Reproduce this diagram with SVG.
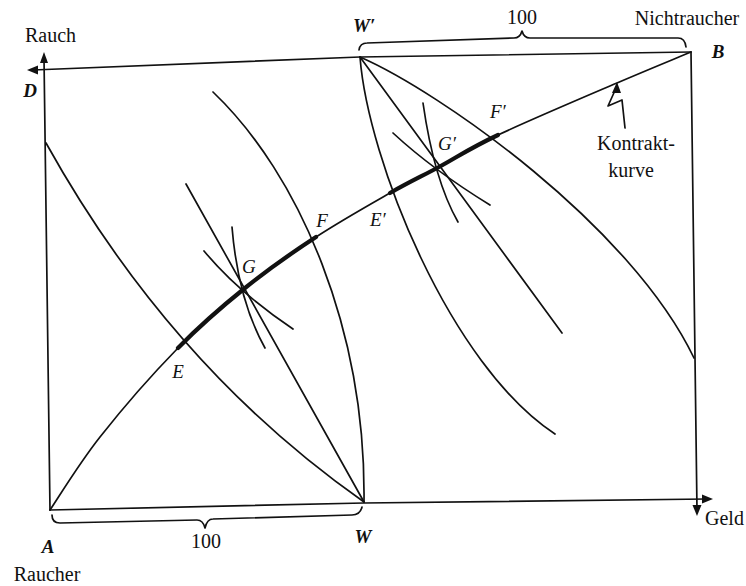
<svg xmlns="http://www.w3.org/2000/svg" width="746" height="586" viewBox="0 0 746 586">
<defs>
<style>
.ln{fill:none;stroke:#111;stroke-width:1.7;stroke-linecap:round;stroke-linejoin:round}
.thick{fill:none;stroke:#111;stroke-width:4.2;stroke-linecap:round}
.ah{fill:#111;stroke:none}
.t{font-family:"Liberation Serif","Times New Roman",serif;font-size:20px;fill:#111}
.lab{font-family:"Liberation Serif","Times New Roman",serif;font-size:19px;font-style:italic;fill:#111}
.b{font-weight:bold}
</style>
</defs>
<rect x="0" y="0" width="746" height="586" fill="#fff"/>

<g id="axes">
  <polyline class="ln" points="44,58 50,510"/>
  <polyline class="ln" points="33,70 360,57 691,52"/>
  <polyline class="ln" points="50,510 364,503 707,499"/>
  <polyline class="ln" points="691,52 697,510"/>
  <polygon class="ah" points="44,52 40,63 48,63"/>
  <polygon class="ah" points="27,70 38,65.5 38,74.5"/>
  <polygon class="ah" points="713,499 702,494.5 702,503.5"/>
  <polygon class="ah" points="697,516 692.5,505 701.5,505"/>
</g>

<g id="braces">
  <path class="ln" d="M359,50 Q360,43 367,43 L514,38 Q520,38 522,31 Q524,38 530,38 L678,38 Q685,38 686,47"/>
  <path class="ln" d="M52,515 Q52,523 60,523 L197,520 Q203,520 205,528 Q207,519 213,519 L352,515 Q360,515 362,507"/>
</g>

<g id="connectors">
  <!-- smoker indifference curves -->
  <path class="ln" d="M46,143 Q170,366 364,502"/>
  <path class="ln" d="M213,92 C300,175 366,330 364,502"/>
  <line class="ln" x1="186" y1="184" x2="364" y2="502"/>
  <path class="ln" d="M232,227 Q238,300 265,348"/>
  <path class="ln" d="M204,251 Q238,292 293,329"/>
  <!-- non-smoker curves -->
  <path class="ln" d="M360,57 C368,160 450,365 555,434"/>
  <line class="ln" x1="360" y1="57" x2="562" y2="333"/>
  <path class="ln" d="M360,57 C440,92 630,225 694,358"/>
  <path class="ln" d="M423,103 Q434,180 458,222"/>
  <path class="ln" d="M393,133 Q433,170 490,205"/>
  <!-- contract curve -->
  <path class="ln" d="M50,510 C58.3,497.8 78.7,464 100,437 C121.3,410 153.8,372.8 178,348 C202.2,323.2 222,306.5 245,288 C268,269.5 291.8,252.8 316,237 C340.2,221.2 369.5,204.7 390,193 C410.5,181.3 421,176.7 439,167 C457,157.3 468.3,149 498,135 C527.7,121 584.8,96.8 617,83 C649.2,69.2 678.7,57.2 691,52"/>
  <path class="thick" d="M178,348 C202.2,323.2 222,306.5 245,288 C268,269.5 291.8,252.8 316,237"/>
  <path class="thick" d="M390,193 C410.5,181.3 421,176.7 439,167 C457,157.3 468.3,149 498,135"/>
  <!-- pointer -->
  <polyline class="ln" points="617,86 608,106 622,100 625,128"/>
  <polygon class="ah" points="617,82 612,93 621,93"/>
</g>

<g id="labels">
  <text class="t" x="25" y="42">Rauch</text>
  <text class="lab b" x="30" y="97" text-anchor="middle">D</text>
  <text class="lab b" x="353" y="32">W′</text>
  <text class="t" x="522" y="24" text-anchor="middle">100</text>
  <text class="t" x="687" y="25" text-anchor="middle">Nichtraucher</text>
  <text class="lab b" x="718" y="58" text-anchor="middle">B</text>
  <text class="lab" x="490" y="118">F′</text>
  <text class="lab" x="438" y="150">G′</text>
  <text class="t" x="636" y="150" text-anchor="middle">Kontrakt-</text>
  <text class="t" x="631" y="177" text-anchor="middle">kurve</text>
  <text class="lab" x="322" y="227" text-anchor="middle">F</text>
  <text class="lab" x="370" y="226">E′</text>
  <text class="lab" x="242" y="273">G</text>
  <text class="lab" x="178" y="378" text-anchor="middle">E</text>
  <text class="lab b" x="48" y="553" text-anchor="middle">A</text>
  <text class="t" x="206" y="548" text-anchor="middle">100</text>
  <text class="lab b" x="363" y="543" text-anchor="middle">W</text>
  <text class="t" x="47" y="581" text-anchor="middle">Raucher</text>
  <text class="t" x="705" y="525">Geld</text>
</g>
</svg>
